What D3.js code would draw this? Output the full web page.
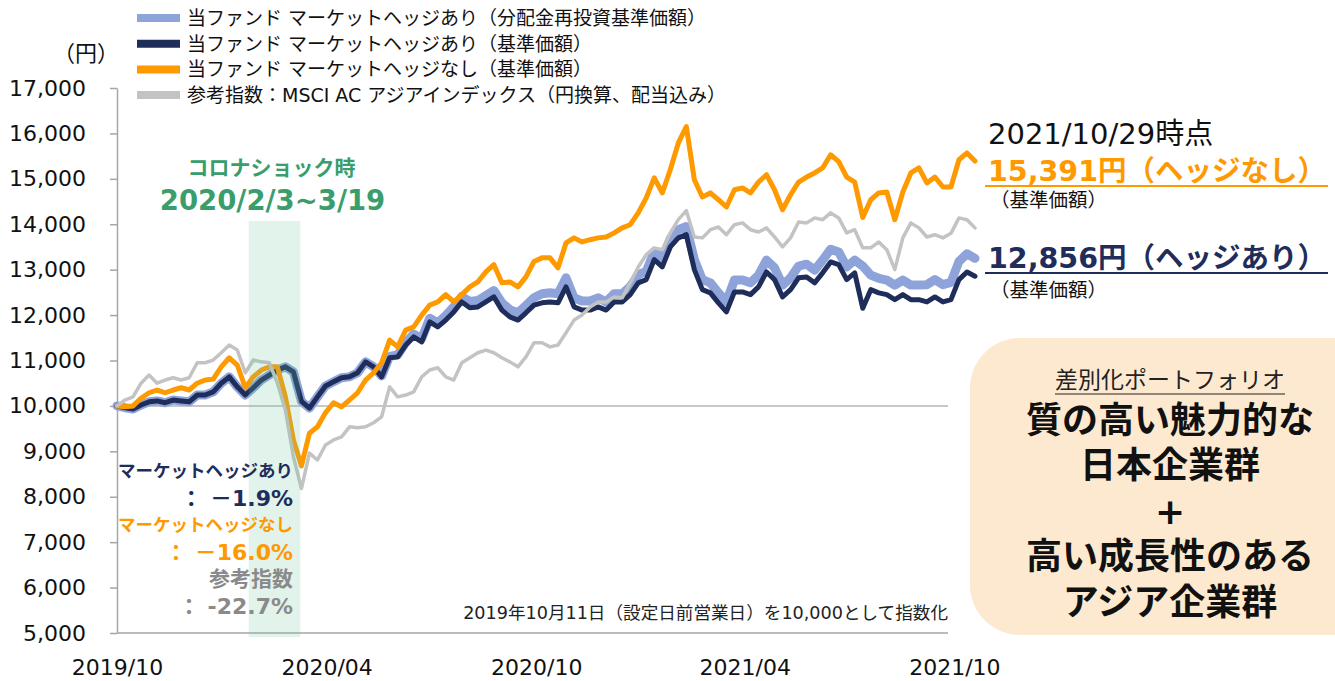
<!DOCTYPE html>
<html lang="ja">
<head>
<meta charset="utf-8">
<script src="https://cdn.jsdelivr.net/npm/d3@7"></script>
<style>
  html, body { margin: 0; padding: 0; background: #fff; }
  svg { display: block; font-family: "DejaVu Sans", "Noto Sans CJK JP", sans-serif; }
</style>
</head>
<body>
<svg id="chart" width="1335" height="681"></svg>
<script>
// weekly closes (Fridays) from 2019/10/11, indexed to 10,000
const startDate = "2019-10-11";
const endDate = "2021-10-29";
const stepDays = 7;

const seriesNames = [
  "当ファンド マーケットヘッジあり（分配金再投資基準価額）",
  "当ファンド マーケットヘッジあり（基準価額）",
  "当ファンド マーケットヘッジなし（基準価額）",
  "参考指数：MSCI AC アジアインデックス（円換算、配当込み）",
];

const reinvested = [
  10000, 9960, 9930, 10020, 10090, 10110, 10070, 10130, 10110, 10090,
  10240, 10240, 10310, 10500, 10640, 10420, 10240, 10400, 10570, 10680,
  10790, 10860, 10750, 10100, 9950, 10200, 10440, 10530, 10620, 10640,
  10730, 10970, 10860, 10660, 11090, 11120, 11390, 11580, 11480, 11930,
  11830, 11990, 12180, 12410, 12300, 12320, 12430, 12540, 12270, 12120,
  12050, 12210, 12380, 12470, 12490, 12470, 12820, 12380, 12310, 12310,
  12380, 12290, 12470, 12470, 12630, 12890, 12960, 13400, 13240, 13680,
  13880, 13950, 13220, 12780, 12710, 12490, 12290, 12770, 12770, 12710,
  12880, 13210, 13040, 12660, 12820, 13080, 13120, 12990, 13210, 13450,
  13390, 13060, 13210, 13080, 12880, 12810, 12770, 12660, 12770, 12660,
  12660, 12670, 12780, 12670, 12720, 13180, 13350, 13250,
];

const hedged = [
  10000, 9960, 9930, 10020, 10090, 10110, 10070, 10130, 10110, 10090,
  10240, 10240, 10310, 10500, 10640, 10420, 10240, 10400, 10570, 10680,
  10790, 10860, 10750, 10100, 9950, 10200, 10440, 10530, 10620, 10640,
  10730, 10970, 10860, 10640, 11060, 11080, 11340, 11520, 11410, 11850,
  11740, 11890, 12070, 12290, 12160, 12180, 12290, 12400, 12110, 11960,
  11890, 12050, 12220, 12270, 12290, 12270, 12620, 12180, 12110, 12110,
  12180, 12110, 12290, 12290, 12450, 12710, 12780, 13220, 13060, 13500,
  13700, 13770, 13000, 12560, 12490, 12270, 12070, 12510, 12510, 12450,
  12620, 12950, 12780, 12400, 12560, 12820, 12840, 12710, 12930, 13170,
  13110, 12780, 12930, 12150, 12560, 12490, 12450, 12340, 12450, 12340,
  12340, 12290, 12400, 12290, 12340, 12780, 12950, 12856,
];

const unhedged = [
  10000, 9980, 10000, 10170, 10290, 10350, 10290, 10350, 10400, 10350,
  10500, 10570, 10590, 10860, 11060, 10900, 10400, 10640, 10790, 10860,
  10860, 10200, 9250, 8680, 9400, 9540, 9850, 10070, 9980, 10130,
  10290, 10570, 10730, 10950, 11450, 11300, 11670, 11740, 12000, 12220,
  12290, 12450, 12290, 12450, 12620, 12730, 12950, 13110, 12710, 12730,
  12620, 12840, 13180, 13260, 13260, 13040, 13590, 13700, 13610, 13660,
  13700, 13720, 13810, 13920, 13990, 14250, 14580, 15020, 14690, 15200,
  15790, 16150, 14980, 14600, 14690, 14540, 14380, 14760, 14800, 14690,
  14930, 15090, 14760, 14320, 14650, 14930, 15040, 15130, 15240, 15530,
  15380, 15040, 14930, 14150, 14540, 14690, 14710, 14100, 14710, 15130,
  15240, 14910, 15040, 14820, 14820, 15420, 15570, 15391,
];

const benchmark = [
  10000, 10130, 10200, 10500, 10680, 10500, 10570, 10620, 10570, 10620,
  10950, 10950, 11010, 11170, 11340, 11230, 10730, 11010, 10970, 10950,
  10500, 9910, 8880, 8180, 8960, 8810, 9140, 9250, 9320, 9540,
  9520, 9540, 9630, 9760, 10420, 10200, 10240, 10310, 10640, 10790,
  10840, 10640, 10570, 10950, 11060, 11170, 11230, 11170, 11060, 10970,
  10860, 11080, 11390, 11390, 11300, 11340, 11610, 11890, 12000, 12180,
  12290, 12290, 12400, 12380, 12710, 13060, 13330, 13480, 13440, 13810,
  14100, 14300, 13720, 13700, 13880, 13940, 13770, 13990, 14030, 13880,
  13830, 13920, 13720, 13500, 13700, 14050, 14030, 14140, 14100, 14250,
  14140, 13810, 13880, 13480, 13480, 13610, 13440, 13000, 13700, 14030,
  13920, 13720, 13770, 13700, 13800, 14140, 14100, 13920,
];

const yTicks = [5000, 6000, 7000, 8000, 9000, 10000, 11000, 12000, 13000, 14000, 15000, 16000, 17000];
const baseValue = 10000;
const shockPeriod = ["2020-02-03", "2020-03-19"];
const shockTitle = ["コロナショック時", "2020/2/3~3/19"];
const shockReturns = [
  ["マーケットヘッジあり", "： －1.9%"],
  ["マーケットヘッジなし", "： －16.0%"],
  ["参考指数", "： -22.7%"],
];
const asOf = "2021/10/29時点";
const lastLabels = ["15,391円（ヘッジなし）", "12,856円（ヘッジあり）"];
const boxLines = ["質の高い魅力的な", "日本企業群", "+", "高い成長性のある", "アジア企業群"];

const colors = {
  reinvested: "#8ea3d9",
  hedged: "#1f2d5b",
  unhedged: "#ff9900",
  benchmark: "#c3c3c3",
  axis: "#a6a6a6",
  green: "#3a9d6c",
  greyText: "#8a8a8a",
  box: "#fde9cf",
};

const settings = {
  left: 117,
  axisRight: 948,
  dataRight: 975,
  top: 88,
  bottom: 633,
  bandTop: 221,
  bandBottom: 637,
};

const svg = d3.select("#chart");
const parse = d3.utcParse("%Y-%m-%d");
const start = parse(startDate);

const x = d3
  .scaleUtc()
  .domain([start, parse(endDate)])
  .range([settings.left, settings.dataRight]);
const y = d3
  .scaleLinear()
  .domain([yTicks[0], yTicks[yTicks.length - 1]])
  .range([settings.bottom, settings.top]);

const dateAt = (i) => d3.utcDay.offset(start, i * stepDays);

// y axis
svg
  .append("g")
  .attr("transform", `translate(${settings.left},0)`)
  .call(
    d3.axisLeft(y).tickValues(yTicks).tickSize(7).tickSizeOuter(0).tickPadding(24).tickFormat(d3.format(","))
  )
  .call((g) => g.select(".domain").attr("stroke", colors.axis).attr("stroke-width", 1.5))
  .call((g) => g.selectAll(".tick line").attr("stroke", colors.axis).attr("stroke-width", 1.5))
  .call((g) =>
    g.selectAll(".tick text").attr("font-size", "22px").attr("fill", "#111").attr("font-family", "DejaVu Sans")
  );

// x axis, labels every 6 months from the start date
const xTicks = d3.range(0, 5).map((k) => d3.utcMonth.offset(start, 6 * k));
svg
  .append("g")
  .attr("transform", `translate(0,${settings.bottom})`)
  .call(d3.axisBottom(x).tickValues(xTicks).tickSize(0).tickPadding(26).tickFormat(d3.utcFormat("%Y/%m")))
  .call((g) => g.select(".domain").remove())
  .call((g) =>
    g.selectAll(".tick text").attr("font-size", "22px").attr("fill", "#111").attr("font-family", "DejaVu Sans")
  );
svg
  .append("line")
  .attr("x1", settings.left)
  .attr("x2", settings.axisRight)
  .attr("y1", settings.bottom)
  .attr("y2", settings.bottom)
  .attr("stroke", colors.axis)
  .attr("stroke-width", 1.5);

// 10,000 reference line
svg
  .append("line")
  .attr("x1", settings.left)
  .attr("x2", settings.axisRight)
  .attr("y1", y(baseValue))
  .attr("y2", y(baseValue))
  .attr("stroke", "#c8c8c8")
  .attr("stroke-width", 2);

// series, drawn in legend order
const series = [
  { name: seriesNames[0], values: reinvested, color: colors.reinvested, width: 9 },
  { name: seriesNames[1], values: hedged, color: colors.hedged, width: 5 },
  { name: seriesNames[2], values: unhedged, color: colors.unhedged, width: 5 },
  { name: seriesNames[3], values: benchmark, color: colors.benchmark, width: 3.5 },
];

const line = d3
  .line()
  .x((d, i) => x(dateAt(i)))
  .y((d) => y(d));

svg
  .append("g")
  .attr("class", "lines")
  .selectAll("path")
  .data(series)
  .join("path")
  .attr("d", (d) => line(d.values))
  .attr("fill", "none")
  .attr("stroke", (d) => d.color)
  .attr("stroke-width", (d) => d.width)
  .attr("stroke-linejoin", "round")
  .attr("stroke-linecap", "round");

// corona shock band, laid over the lines
svg
  .append("rect")
  .attr("x", x(parse(shockPeriod[0])))
  .attr("width", x(parse(shockPeriod[1])) - x(parse(shockPeriod[0])))
  .attr("y", settings.bandTop)
  .attr("height", settings.bandBottom - settings.bandTop)
  .attr("fill", "#6cc49a")
  .attr("opacity", 0.2);

const bandMid = (x(parse(shockPeriod[0])) + x(parse(shockPeriod[1]))) / 2;
svg
  .append("text")
  .attr("x", bandMid - 3)
  .attr("y", 168)
  .attr("text-anchor", "middle")
  .attr("dominant-baseline", "central")
  .attr("font-size", "21px")
  .attr("font-weight", "bold")
  .attr("fill", colors.green)
  .text(shockTitle[0]);
svg
  .append("text")
  .attr("x", bandMid - 2)
  .attr("y", 200)
  .attr("text-anchor", "middle")
  .attr("dominant-baseline", "central")
  .attr("font-size", "27.5px")
  .attr("font-weight", "bold")
  .attr("fill", colors.green)
  .text(shockTitle[1]);

// returns during the shock
const retColors = [colors.hedged, colors.unhedged, colors.greyText];
const retSizes = [
  [17.5, 22],
  [17.5, 22],
  [21, 22],
];
shockReturns.forEach((r, k) => {
  const base = 471 + k * 54;
  svg
    .append("text")
    .attr("x", 293)
    .attr("y", base)
    .attr("text-anchor", "end")
    .attr("dominant-baseline", "central")
    .attr("font-size", retSizes[k][0] + "px")
    .attr("font-weight", "bold")
    .attr("fill", retColors[k])
    .text(r[0]);
  svg
    .append("text")
    .attr("x", 293)
    .attr("y", base + 27)
    .attr("text-anchor", "end")
    .attr("dominant-baseline", "central")
    .attr("font-size", retSizes[k][1] + "px")
    .attr("font-weight", "bold")
    .attr("fill", retColors[k])
    .text(r[1]);
});

// note
svg
  .append("text")
  .attr("x", settings.axisRight)
  .attr("y", 613)
  .attr("text-anchor", "end")
  .attr("dominant-baseline", "central")
  .attr("font-size", "17.6px")
  .attr("fill", "#222")
  .text("2019年10月11日（設定日前営業日）を10,000として指数化");

// unit
svg
  .append("text")
  .attr("x", 86)
  .attr("y", 53)
  .attr("text-anchor", "middle")
  .attr("dominant-baseline", "central")
  .attr("font-size", "22px")
  .attr("fill", "#111")
  .text("（円）");

// legend
const legend = svg.append("g").attr("class", "legend");
series.forEach((s, k) => {
  const ly = 18 + k * 25.7;
  legend
    .append("line")
    .attr("x1", 137)
    .attr("x2", 180)
    .attr("y1", ly)
    .attr("y2", ly)
    .attr("stroke", s.color)
    .attr("stroke-width", 8);
  legend
    .append("text")
    .attr("x", 187)
    .attr("y", ly)
    .attr("dominant-baseline", "central")
    .attr("font-size", "19px")
    .attr("fill", "#111")
    .text(s.name);
});

// latest values on the right
const right = svg.append("g").attr("class", "latest");
right
  .append("text")
  .attr("x", 988)
  .attr("y", 134)
  .attr("dominant-baseline", "central")
  .attr("font-size", "29px")
  .attr("fill", "#111")
  .text(asOf);
[
  { text: lastLabels[0], color: colors.unhedged, y: 171, rule: 186, sub: 200 },
  { text: lastLabels[1], color: colors.hedged, y: 258, rule: 273, sub: 290 },
].forEach((d) => {
  right
    .append("text")
    .attr("x", 988)
    .attr("y", d.y)
    .attr("dominant-baseline", "central")
    .attr("font-size", "28.5px")
    .attr("font-weight", "bold")
    .attr("fill", d.color)
    .text(d.text);
  right
    .append("line")
    .attr("x1", 985)
    .attr("x2", 1328)
    .attr("y1", d.rule)
    .attr("y2", d.rule)
    .attr("stroke", d.color)
    .attr("stroke-width", 2);
  right
    .append("text")
    .attr("x", 990)
    .attr("y", d.sub)
    .attr("dominant-baseline", "central")
    .attr("font-size", "19.5px")
    .attr("fill", "#111")
    .text("（基準価額）");
});

// portfolio box
const box = svg.append("g").attr("class", "box");
box
  .append("rect")
  .attr("x", 970)
  .attr("y", 338)
  .attr("width", 420)
  .attr("height", 297)
  .attr("rx", 50)
  .attr("fill", colors.box);
const boxX = 1170;
const sub = box
  .append("text")
  .attr("x", boxX)
  .attr("y", 380)
  .attr("text-anchor", "middle")
  .attr("dominant-baseline", "central")
  .attr("font-size", "23px")
  .attr("fill", "#222")
  .text("差別化ポートフォリオ");
const subW = sub.node().getComputedTextLength();
box
  .append("line")
  .attr("x1", boxX - subW / 2)
  .attr("x2", boxX + subW / 2)
  .attr("y1", 394)
  .attr("y2", 394)
  .attr("stroke", "#222")
  .attr("stroke-width", 1.2);
box
  .selectAll("text.big")
  .data(boxLines)
  .join("text")
  .attr("class", "big")
  .attr("x", boxX)
  .attr("y", (d, i) => 420 + i * 45.5)
  .attr("text-anchor", "middle")
  .attr("dominant-baseline", "central")
  .attr("font-size", "36px")
  .attr("font-weight", "bold")
  .attr("fill", "#111")
  .text((d) => d);
</script>
</body>
</html>
